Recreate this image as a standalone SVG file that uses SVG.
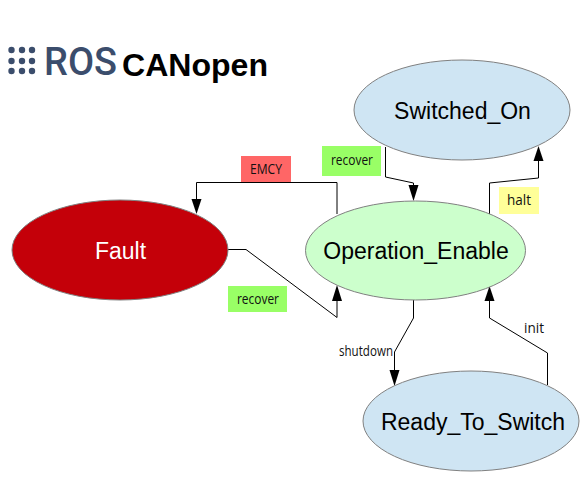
<svg xmlns="http://www.w3.org/2000/svg" width="582" height="478" viewBox="0 0 582 478">
<style>
.n{stroke:#808080;stroke-width:1}
.t{font-family:"Liberation Sans",Arial,sans-serif;font-size:23px;text-anchor:middle;fill:#000}
.l{font-family:"Open Sans","Noto Sans",sans-serif;font-size:14px;text-anchor:middle;fill:#111}
.c{fill:none;stroke:#000;stroke-width:1}
.h{fill:#000;stroke:none}
.d{fill:#3b4d6c}
</style>
<rect width="582" height="478" fill="#fff"/>
<g id="logo">
<g class="d"><circle cx="11.500" cy="50" r="3.200"/><circle cx="22" cy="50" r="3.200"/><circle cx="32" cy="50" r="3.200"/><circle cx="11.500" cy="61" r="3.200"/><circle cx="22" cy="61" r="3.200"/><circle cx="32" cy="61" r="3.200"/><circle cx="11.500" cy="71" r="3.200"/><circle cx="22" cy="71" r="3.200"/><circle cx="32" cy="71" r="3.200"/></g>
<text x="44" y="75" font-family="Roboto,sans-serif" font-weight="500" font-size="39" fill="#3b4d6c" textLength="73" lengthAdjust="spacingAndGlyphs">ROS</text>
<text x="122" y="76" font-family="Liberation Sans,sans-serif" font-weight="bold" font-size="32" fill="#000" textLength="146" lengthAdjust="spacingAndGlyphs">CANopen</text>
</g>
<g id="labels">
<g id="label-emcy"><rect x="241" y="156" width="50" height="26" fill="#ff6666"/><text class="l" x="266" y="174" textLength="32" lengthAdjust="spacingAndGlyphs">EMCY</text></g>
<g id="label-recover-top"><rect x="322" y="146" width="59" height="30" fill="#99ff66"/><text class="l" x="352" y="165" textLength="42" lengthAdjust="spacingAndGlyphs">recover</text></g>
<g id="label-recover-bottom"><rect x="228" y="286" width="59" height="26" fill="#99ff66"/><text class="l" x="258" y="304" textLength="42" lengthAdjust="spacingAndGlyphs">recover</text></g>
<g id="label-halt"><rect x="499" y="187" width="40" height="27" fill="#ffff99"/><text class="l" x="519" y="205" textLength="24" lengthAdjust="spacingAndGlyphs">halt</text></g>
<text class="l" x="366" y="356" textLength="54" lengthAdjust="spacingAndGlyphs">shutdown</text>
<text class="l" x="534" y="333" textLength="20" lengthAdjust="spacingAndGlyphs">init</text>
</g>
<g id="connectors">
<path class="c" d="M337 214V182.500H196.500V200"/><path class="h" d="M196.500 214L191.500 199H201.500Z"/>
<path class="c" d="M385.500 147V177L413.500 183V190"/><path class="h" d="M413.500 201L408.500 185H418.500Z"/>
<path class="c" d="M228 249.500H246L337 317.500V297"/><path class="h" d="M337 285L332 301H342Z"/>
<path class="c" d="M489.500 214V183L538.500 178V158"/><path class="h" d="M538.500 146L533.500 161H543.500Z"/>
<path class="c" d="M413.500 300V318L394.500 352V375"/><path class="h" d="M394.500 386L389.500 370H399.500Z"/>
<path class="c" d="M547.500 385V353L489.500 318V298"/><path class="h" d="M489.500 286L484.500 301H494.500Z"/>
</g>
<g id="Switched_On"><ellipse class="n" cx="462" cy="110" rx="108" ry="50" fill="#cfe5f3"/><text class="t" x="462.500" y="118.500">Switched_On</text></g>
<g id="Fault"><ellipse class="n" cx="120" cy="250" rx="108" ry="50" fill="#c40009"/><text class="t" x="120.500" y="258.500" style="fill:#fff">Fault</text></g>
<g id="Operation_Enable"><ellipse class="n" cx="415.500" cy="250.500" rx="110" ry="49.500" fill="#ccffcc"/><text class="t" x="416" y="258.500">Operation_Enable</text></g>
<g id="Ready_To_Switch"><ellipse class="n" cx="471" cy="421" rx="108" ry="50" fill="#cfe5f3"/><text class="t" x="473" y="429.500">Ready_To_Switch</text></g>
</svg>
